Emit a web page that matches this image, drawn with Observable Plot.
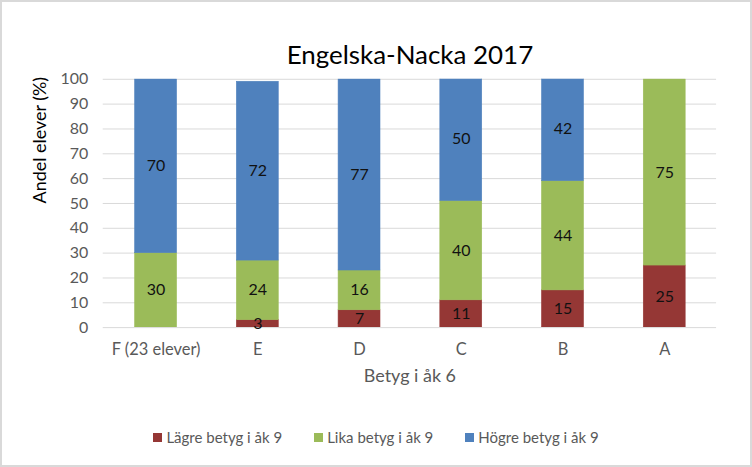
<!DOCTYPE html>
<html>
<head>
<meta charset="utf-8">
<script src="https://cdn.jsdelivr.net/npm/d3@7"></script>
<script src="https://cdn.jsdelivr.net/npm/@observablehq/plot@0.6"></script>
<style>
  html, body { margin: 0; padding: 0; background: #fff; }
  #wrap { position: relative; width: 752px; height: 467px; box-sizing: border-box; border: 2px solid #d9d9d9; overflow: hidden; font-family: Lato, "Open Sans", sans-serif; }
  #chart { position: absolute; left: -2px; top: -2px; }
  #legend { position: absolute; left: 0; right: 0; top: 426px; display: flex; justify-content: center; font-size: 15px; color: #595959; }
  #legend .item { display: flex; align-items: center; margin: 0 16px; }
  #legend .sw { width: 9px; height: 9px; margin-right: 4px; }
</style>
</head>
<body>
<div id="wrap">
  <div id="chart"></div>
  <div id="legend"></div>
</div>
<script>
const categories = ["F (23 elever)", "E", "D", "C", "B", "A"];
const seriesNames = ["Lägre betyg i åk 9", "Lika betyg i åk 9", "Högre betyg i åk 9"];
const lagre = [0, 3, 7, 11, 15, 25];
const lika = [30, 24, 16, 40, 44, 75];
const hogre = [70, 72, 77, 50, 42, 0];
const colors = ["#953735", "#9BBB59", "#4F81BD"];
const yTicks = [0, 10, 20, 30, 40, 50, 60, 70, 80, 90, 100];
const title = "Engelska-Nacka 2017";
const yLabel = "Andel elever (%)";
const xLabel = "Betyg i åk 6";

const seriesValues = [lagre, lika, hogre];
const data = [];
seriesNames.forEach((s, si) => {
  categories.forEach((c, ci) => {
    data.push({ category: c, series: s, value: seriesValues[si][ci] });
  });
});

const chart = Plot.plot({
  width: 752,
  height: 467,
  marginLeft: 103,
  marginRight: 34,
  marginTop: 79,
  marginBottom: 139,
  style: { fontFamily: "Lato, 'Open Sans', sans-serif", background: "transparent" },
  x: { domain: categories, paddingInner: 0.59, paddingOuter: 0.295, axis: null },
  y: { domain: [0, 100], axis: null },
  color: { domain: seriesNames, range: colors },
  marks: [
    Plot.ruleY(yTicks, { stroke: "#d9d9d9", strokeWidth: 1 }),
    Plot.barY(data.filter(d => d.value > 0), Plot.stackY({ x: "category", y: "value", fill: "series", stroke: "series", strokeWidth: 0.6, z: "series", clip: true })),
    Plot.text(data.filter(d => d.value > 0), Plot.stackY({ x: "category", y: "value", z: "series", text: d => String(d.value), fontSize: 16, fill: "#111" })),
    Plot.axisY({ ticks: yTicks, tickSize: 0, tickPadding: 15, label: null, fontSize: 16, color: "#595959" }),
    Plot.axisX({ tickSize: 0, tickPadding: 16, label: null, fontSize: 16.5, color: "#595959" }),
    Plot.text([yLabel], { frameAnchor: "left", dx: -63, rotate: -90, fontSize: 18, fill: "#000" }),
    Plot.text([xLabel], { frameAnchor: "bottom", dy: 55, fontSize: 18, fill: "#595959" }),
    Plot.text([title], { frameAnchor: "top", dy: -34, fontSize: 26, fill: "#000" })
  ]
});
document.getElementById("chart").appendChild(chart);

const legend = document.getElementById("legend");
seriesNames.forEach((s, i) => {
  const item = document.createElement("div");
  item.className = "item";
  const sw = document.createElement("div");
  sw.className = "sw";
  sw.style.background = colors[i];
  const t = document.createElement("span");
  t.textContent = s;
  item.appendChild(sw);
  item.appendChild(t);
  legend.appendChild(item);
});
</script>
</body>
</html>
